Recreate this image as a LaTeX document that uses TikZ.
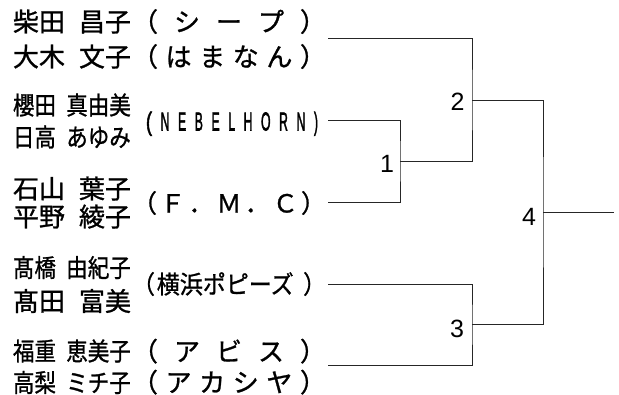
\documentclass[tikz,border=0pt]{standalone}
\usepackage{fontspec}
\usepackage{graphicx}
\setmainfont{Noto Sans CJK JP}[FakeBold=1]
\newfontfamily\latinf{Liberation Sans}
\newfontfamily\latinn{Liberation Sans}[FakeBold=2.5]
\newcommand\fs[1]{\fontsize{#1}{#1}\selectfont}
% name: surname left, given name right, in a 118pt box
\newcommand\nmbox[3]{\fs{#3}\makebox[118pt][l]{#1\hfill #2}}
% narrower names (three-character given names), squeezed horizontally
\newcommand\nmboxS[3]{\fs{#3}\scalebox{0.86}[1]{\makebox[137pt][l]{#1\hfill #2}}}
\newcommand\tmbox[2]{\fs{#1}\makebox[194pt][l]{#2}}
\newcommand\nq[1]{\scalebox{0.47}[1]{#1}}
\newcommand\pq[1]{\scalebox{0.7}[1]{#1}}
\begin{document}
\begin{tikzpicture}[x=1pt,y=-1pt,
  nm/.style={anchor=base west,inner sep=0pt,outer sep=0pt},
  num/.style={anchor=base,inner sep=0pt,font=\latinf\fs{25}},
  br/.style={line width=1pt,draw=black!85}]
\useasboundingbox (0,0) rectangle (619,394);
% names
\node[nm] (n1) at (13,31.4) {\nmbox{柴田}{昌子}{26}};
\node[nm] (n2) at (13,66.4) {\nmbox{大木}{文子}{26}};
\node[nm] (n3) at (13,114.5) {\nmboxS{櫻田}{真由美}{25}};
\node[nm] (n4) at (13,146.5) {\nmboxS{日高}{あゆみ}{25}};
\node[nm] (n5) at (13,198.4) {\nmbox{石山}{葉子}{26}};
\node[nm] (n6) at (13,226.4) {\nmbox{平野}{綾子}{26}};
\node[nm] (n7) at (13,277) {\nmboxS{髙橋}{由紀子}{25}};
\node[nm] (n8) at (13,310.9) {\nmbox{髙田}{富美}{26}};
\node[nm] (n9) at (13,360.5) {\nmboxS{福重}{恵美子}{25}};
\node[nm] (n10) at (13,392) {\nmboxS{高梨}{ミチ子}{25}};
% teams
\node[nm] (t1) at (132,31.4) {\tmbox{26}{（\hfill シ\hfill ー\hfill プ\hfill ）}};
\node[nm] (t2) at (132,66.4) {\tmbox{26}{（\hfill は\hfill ま\hfill な\hfill ん\hfill ）}};
\node[nm] (t3) at (146,130.5) {\latinn\fs{26}\makebox[172pt][l]{\pq{(}\hfill\nq{N}\hfill\nq{E}\hfill\nq{B}\hfill\nq{E}\hfill\nq{L}\hfill\nq{H}\hfill\nq{O}\hfill\nq{R}\hfill\nq{N}\hfill\nq{)}}};
\node[nm] (t4) at (132,212.5) {\tmbox{25}{（\hfill Ｆ\hfill ．\hfill Ｍ\hfill ．\hfill Ｃ\hfill ）}};
\node[nm] (t5) at (132,293.5) {\fs{25}\scalebox{0.92}[1]{\makebox[211pt][l]{（\hspace{2pt}横浜ポピーズ\hfill ）}}};
\node[nm] (t6) at (132,361) {\tmbox{26}{（\hfill ア\hfill ビ\hfill ス\hfill ）}};
\node[nm] (t7) at (132,392) {\tmbox{26}{（\hfill ア\hfill カ\hfill シ\hfill ヤ\hfill ）}};
% connectors
\coordinate (e1) at (328,38);
\coordinate (e2) at (328,120);
\coordinate (e3) at (328,202);
\coordinate (e4) at (328,284);
\coordinate (e5) at (328,365);
\coordinate (j1) at (400,161);
\coordinate (j2) at (472,100);
\coordinate (j3) at (472,324.5);
\coordinate (j4) at (543,212);
\coordinate (fin) at (614,212);
\draw[br] (e2) -| (j1) |- (e3);
\draw[br] (e1) -| (j2) |- (j1);
\draw[br] (e4) -| (j3) |- (e5);
\draw[br] (j2) -| (j4) |- (j3);
\draw[br] (j4) -- (fin);
% match numbers
\node[num] (m1) at (387,172) {1};
\node[num] (m2) at (457.5,110) {2};
\node[num] (m3) at (457,337) {3};
\node[num] (m4) at (529,225) {4};
\end{tikzpicture}
\end{document}
